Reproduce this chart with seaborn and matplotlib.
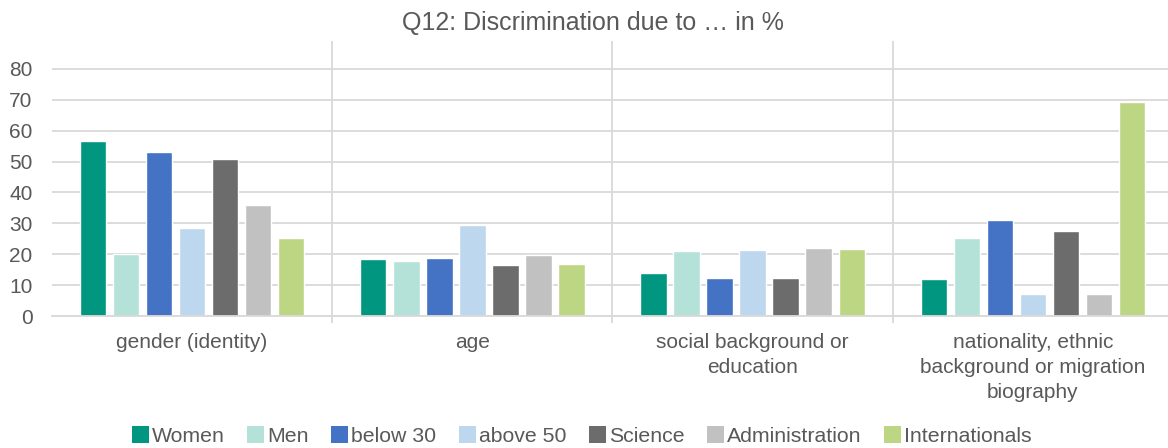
import matplotlib
matplotlib.use("Agg")
import matplotlib.pyplot as plt
import seaborn as sns
import pandas as pd
from matplotlib.patches import Patch

# Survey results: share of respondents reporting discrimination (%)
categories = [
    "gender (identity)",
    "age",
    "social background or\neducation",
    "nationality, ethnic\nbackground or migration\nbiography",
]
groups = ["Women", "Men", "below 30", "above 50", "Science", "Administration", "Internationals"]

women = [56.7, 18.3, 14.0, 11.9]
men = [20.1, 17.9, 20.9, 25.2]
below_30 = [53.0, 18.7, 12.3, 31.2]
above_50 = [28.6, 29.5, 21.5, 7.0]
science = [50.7, 16.4, 12.2, 27.4]
administration = [35.9, 19.8, 22.0, 7.0]
internationals = [25.2, 16.7, 21.8, 69.4]

colors = ["#00967F", "#B4E2D8", "#4472C4", "#BDD7EE", "#6C6C6C", "#C1C1C1", "#BCD684"]

series = [women, men, below_30, above_50, science, administration, internationals]
df = pd.DataFrame(
    [(cat, grp, val) for grp, vals in zip(groups, series) for cat, val in zip(categories, vals)],
    columns=["category", "group", "value"],
)

sns.set_theme(style="white")
plt.rcParams["font.family"] = ["Liberation Sans", "DejaVu Sans"]
text_color = "#595959"
grid_color = "#D9D9D9"

fig = plt.figure(figsize=(11.68, 4.48), dpi=100)
ax = fig.add_axes([0.0445, 0.2946, 0.9598, 0.6139])

sns.barplot(
    data=df, x="category", y="value", hue="group",
    order=categories, hue_order=groups, palette=colors,
    width=0.825, gap=0.2, ax=ax, legend=False, saturation=1,
)

ax.set_ylim(0, 89)
ax.set_xlim(-0.5, 3.5)
ax.set_yticks(range(0, 81, 10))
ax.yaxis.grid(True, color=grid_color, linewidth=1.3)
ax.set_axisbelow(True)

# category separators
for b in [0.5, 1.5, 2.5]:
    ax.axvline(b, color=grid_color, linewidth=1.3, zorder=0)
ax.set_xticks([0.5, 1.5, 2.5], minor=True)
ax.tick_params(axis="x", which="minor", length=5, width=1.3, color=grid_color, bottom=True)
ax.tick_params(axis="x", which="major", length=0, pad=12, labelsize=15, labelcolor=text_color)
ax.tick_params(axis="y", length=0, pad=14, labelsize=15, labelcolor=text_color)
for lbl in ax.get_xticklabels():
    lbl.set_linespacing(1.4)

for side in ["top", "right", "left"]:
    ax.spines[side].set_visible(False)
ax.spines["bottom"].set_color(grid_color)
ax.spines["bottom"].set_linewidth(1.3)
ax.set_xlabel("")
ax.set_ylabel("")

fig.text(0.508, 0.948, "Q12: Discrimination due to \u2026 in %", ha="center", va="center",
         fontsize=18, color=text_color)

handles = [Patch(facecolor=c, edgecolor="none", label=g) for c, g in zip(colors, groups)]
fig.legend(handles=handles, loc="center", bbox_to_anchor=(0.498, 0.027), ncol=7,
           frameon=False, fontsize=15.3, handlelength=0.8, handleheight=0.85,
           handletextpad=0.15, columnspacing=1.05, labelcolor=text_color,
           borderpad=0, borderaxespad=0)

fig.savefig("out.png", dpi=100, facecolor="white")
